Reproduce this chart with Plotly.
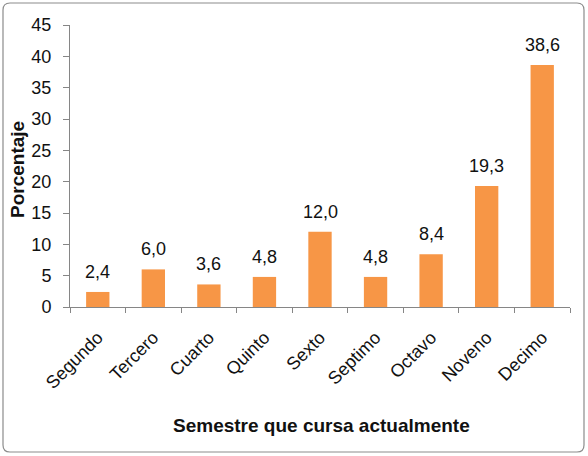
import plotly.graph_objects as go

categories = ["Segundo", "Tercero", "Cuarto", "Quinto", "Sexto", "Septimo", "Octavo", "Noveno", "Decimo"]
values = [2.4, 6.0, 3.6, 4.8, 12.0, 4.8, 8.4, 19.3, 38.6]
labels = [f"{v:.1f}".replace(".", ",") for v in values]
y_ticks = [0, 5, 10, 15, 20, 25, 30, 35, 40, 45]

W, H = 588, 456
L, R, T, B = 70, 18, 25, 149
pw, ph = W - L - R, H - T - B

def px(x):
    return (x - L) / pw

def py(y):
    return (H - B - y) / ph

FAM = "Liberation Sans, Arial"
font = dict(family=FAM, size=18, color="#111111")
tfont = dict(family=FAM, size=19, color="#111111")

fig = go.Figure(go.Bar(
    x=categories, y=values,
    marker=dict(color="#F79646", line=dict(width=0)),
    cliponaxis=False,
))

annotations = [
    dict(x=c, y=v, xref="x", yref="y", text=t, showarrow=False,
         yanchor="bottom", yshift=8, font=font)
    for c, v, t in zip(categories, values, labels)
]
annotations += [
    dict(text="<b>Semestre que cursa actualmente</b>", xref="paper", yref="paper",
         x=px(321), y=py(425), xanchor="center", yanchor="middle",
         showarrow=False, font=tfont),
    dict(text="<b>Porcentaje</b>", xref="paper", yref="paper",
         x=px(17), y=py(170), xanchor="center", yanchor="middle",
         textangle=-90, showarrow=False, font=tfont),
]

# rounded chart border (pixel coords converted to paper coords)
bx0, bx1, by0, by1, r = 3, 584, 3, 452, 7
def P(x, y):
    return f"{px(x):.5f},{py(y):.5f}"
border_path = (
    f"M {P(bx0 + r, by0)} L {P(bx1 - r, by0)} Q {P(bx1, by0)} {P(bx1, by0 + r)} "
    f"L {P(bx1, by1 - r)} Q {P(bx1, by1)} {P(bx1 - r, by1)} "
    f"L {P(bx0 + r, by1)} Q {P(bx0, by1)} {P(bx0, by1 - r)} "
    f"L {P(bx0, by0 + r)} Q {P(bx0, by0)} {P(bx0 + r, by0)} Z"
)

fig.update_layout(
    width=W, height=H,
    margin=dict(l=L, r=R, t=T, b=B, autoexpand=False),
    paper_bgcolor="white", plot_bgcolor="white",
    bargap=0.58, showlegend=False,
    font=font,
    xaxis=dict(
        tickangle=-45, tickson="boundaries", ticks="outside", ticklen=5,
        tickcolor="#868686", showline=True, linecolor="#868686", linewidth=1,
        tickfont=font, showgrid=False, automargin=False,
        ticklabelstandoff=12,
    ),
    yaxis=dict(
        range=[0, 45], tickvals=y_ticks, ticks="outside", ticklen=6,
        tickcolor="#868686", showline=True, linecolor="#868686", linewidth=1,
        showgrid=False, zeroline=False, tickfont=font, automargin=False,
        ticklabelstandoff=8,
    ),
    annotations=annotations,
    shapes=[dict(type="path", xref="paper", yref="paper", path=border_path,
                 line=dict(color="#8c8c8c", width=1.2), layer="below")],
)

fig.write_html("out.html", config={"displayModeBar": False},
               post_script="document.body.style.margin='0';")
